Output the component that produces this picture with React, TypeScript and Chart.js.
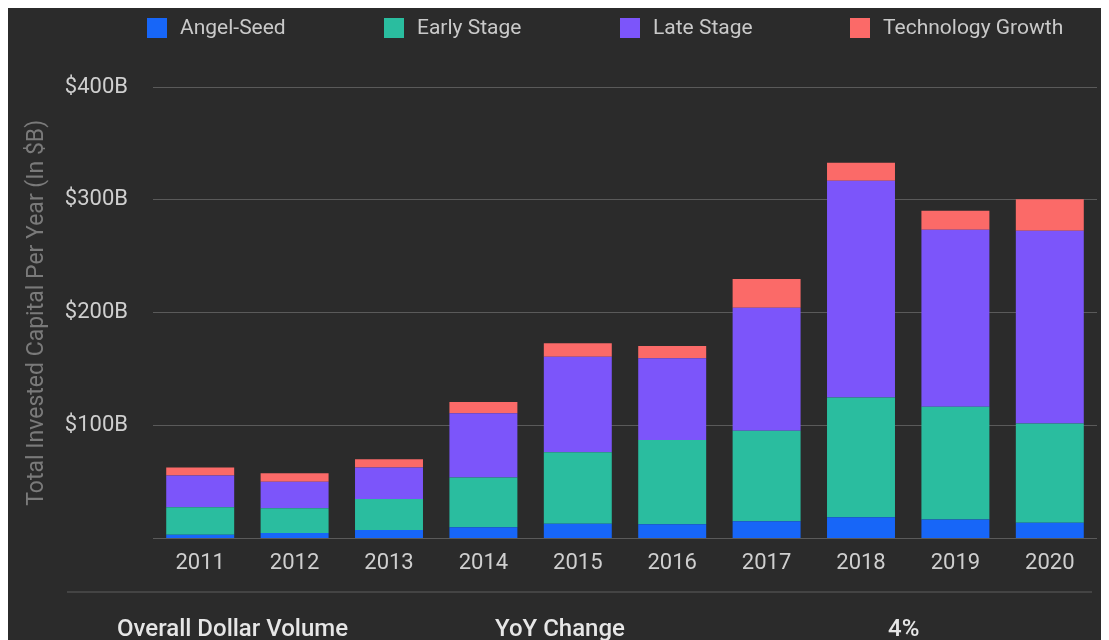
import React, { useEffect, useRef } from "react";
import { Chart, registerables } from "chart.js";

Chart.register(...registerables);

const years = ["2011", "2012", "2013", "2014", "2015", "2016", "2017", "2018", "2019", "2020"];
const angelSeed = [3.5, 5, 7.7, 10, 13.2, 12.6, 15.3, 19, 17, 14.1];
const earlyStage = [24.2, 21.8, 27.3, 44.2, 63.2, 74.8, 80.3, 106, 99.8, 87.9];
const lateStage = [28.1, 23.6, 28, 56.8, 84.6, 72.3, 108.8, 192, 156.8, 170.7];
const techGrowth = [7.2, 7.4, 7.2, 10, 12, 10.9, 25.6, 16, 16.8, 27.9];
const seriesNames = ["Angel-Seed", "Early Stage", "Late Stage", "Technology Growth"];
const seriesColors = ["#1766f8", "#2abd9f", "#7c55fa", "#fb6a68"];
const yTickValues = [100, 200, 300, 400];
const yTitle = "Total Invested Capital Per Year (In $B)";
const footerLabels = ["Overall Dollar Volume", "YoY Change", "4%"];

const FONT = "Roboto, 'Noto Sans', sans-serif";
const BG = "#2b2b2b";

const legendPlugin = {
  id: "fixedLegend",
  afterDraw(chart: any) {
    const ctx = chart.ctx;
    const xs = [139, 376, 612, 842];
    ctx.save();
    chart.data.datasets.forEach((ds: any, i: number) => {
      const x = xs[i];
      ctx.fillStyle = ds.backgroundColor;
      ctx.fillRect(x, 10, 20, 20);
      ctx.fillStyle = "#c9c9c9";
      ctx.font = `21px ${FONT}`;
      ctx.textAlign = "left";
      ctx.textBaseline = "middle";
      ctx.fillText(ds.label, x + 33, 21);
    });
    ctx.restore();
  },
};

export default function App() {
  const ref = useRef<HTMLCanvasElement | null>(null);
  useEffect(() => {
    if (!ref.current) return;
    const values = [angelSeed, earlyStage, lateStage, techGrowth];
    const chart = new Chart(ref.current, {
      type: "bar",
      data: {
        labels: years,
        datasets: values.map((v, i) => ({
          label: seriesNames[i],
          data: v,
          backgroundColor: seriesColors[i],
          borderWidth: 0,
          categoryPercentage: 1,
          barPercentage: 0.72,
        })),
      },
      plugins: [legendPlugin],
      options: {
        animation: false,
        responsive: true,
        maintainAspectRatio: false,
        layout: { padding: { top: 79, right: 12, left: 0, bottom: 59 } },
        plugins: { legend: { display: false }, tooltip: { enabled: false } },
        scales: {
          x: {
            stacked: true,
            grid: { display: false },
            border: { display: false },
            ticks: { color: "#cfcfcf", font: { family: FONT, size: 22 }, padding: 4 },
          },
          y: {
            stacked: true,
            min: 0,
            max: 400,
            afterBuildTicks: (scale: any) => {
              scale.ticks = [0, ...yTickValues].map((v) => ({ value: v }));
            },
            afterFit: (scale: any) => {
              scale.width = 145;
            },
            grid: { color: "#5a5a5a", lineWidth: 1, drawTicks: false },
            border: { display: false },
            ticks: {
              color: "#cfcfcf",
              font: { family: FONT, size: 22 },
              padding: 25,
              callback: (v: any) => (v === 0 ? "" : "$" + v + "B"),
            },
            title: {
              display: true,
              text: yTitle,
              color: "#7a7a7a",
              font: { family: FONT, size: 23 },
              padding: { top: 15, bottom: 0 },
            },
          },
        },
      },
    });
    return () => chart.destroy();
  }, []);

  const footerX = [109, 487, 880];
  return (
    <div style={{ position: "relative", width: 1101, height: 632, background: BG, overflow: "hidden" }}>
      <div style={{ position: "absolute", left: 0, top: 0, width: 1101, height: 632 }}>
        <canvas ref={ref} />
      </div>
      <div style={{ position: "absolute", left: 59, top: 583, width: 1025, height: 2, background: "#444444" }} />
      {footerLabels.map((t, i) => (
        <div
          key={t}
          style={{
            position: "absolute",
            left: footerX[i],
            top: 606,
            font: `500 24px ${FONT}`,
            color: "#e6e6e6",
            whiteSpace: "nowrap",
          }}
        >
          {t}
        </div>
      ))}
    </div>
  );
}
